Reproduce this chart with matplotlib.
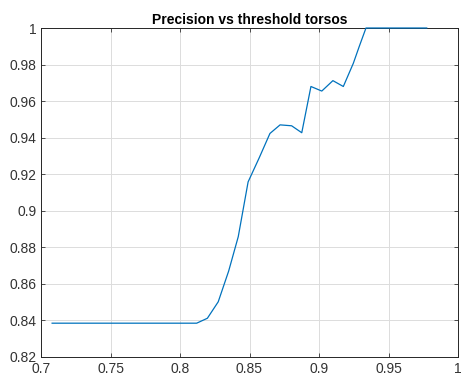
import matplotlib
matplotlib.use("Agg")
import matplotlib.pyplot as plt

# Valores (limiar x precisão)
threshold = [0.708, 0.812, 0.8197, 0.8275, 0.835, 0.8419, 0.849, 0.857,
             0.8647, 0.872, 0.8803, 0.8876, 0.8942, 0.902, 0.910, 0.9175,
             0.9247, 0.929, 0.9338, 0.9775]
precision = [0.8385, 0.8385, 0.8412, 0.8502, 0.867, 0.8858, 0.9158, 0.929,
             0.9423, 0.947, 0.9465, 0.9427, 0.968, 0.9655, 0.9712, 0.968,
             0.9807, 0.990, 1.0, 1.0]

x_ticks = [0.7, 0.75, 0.8, 0.85, 0.9, 0.95, 1]
x_labels = ["0.7", "0.75", "0.8", "0.85", "0.9", "0.95", "1"]
y_ticks = [0.82, 0.84, 0.86, 0.88, 0.9, 0.92, 0.94, 0.96, 0.98, 1]
y_labels = ["0.82", "0.84", "0.86", "0.88", "0.9", "0.92", "0.94", "0.96", "0.98", "1"]

plt.rcParams["font.family"] = ["Liberation Sans", "DejaVu Sans"]

fig = plt.figure(figsize=(4.62, 3.83), dpi=100)
ax = fig.add_axes([41 / 462, 26 / 383, 417 / 462, 329 / 383])

# clip_on=False para a linha em y=1 aparecer por cima da borda
ax.plot(threshold, precision, color="#0072BD", linewidth=0.9, clip_on=False,
        zorder=5)

ax.set_xlim(0.7, 1)
ax.set_ylim(0.82, 1)
ax.set_xticks(x_ticks)
ax.set_xticklabels(x_labels)
ax.set_yticks(y_ticks)
ax.set_yticklabels(y_labels)

ax.grid(True, color="#dcdcdc", linewidth=0.7)
ax.set_axisbelow(True)
ax.tick_params(direction="in", top=True, right=True, length=3,
               labelsize=10, colors="#333333", width=0.6)
for lado in ax.spines.values():
    lado.set_color("#262626")
    lado.set_linewidth(0.7)

ax.set_title("Precision vs threshold torsos", fontsize=10, fontweight="bold",
             pad=3)

fig.savefig("out.png", dpi=100)
